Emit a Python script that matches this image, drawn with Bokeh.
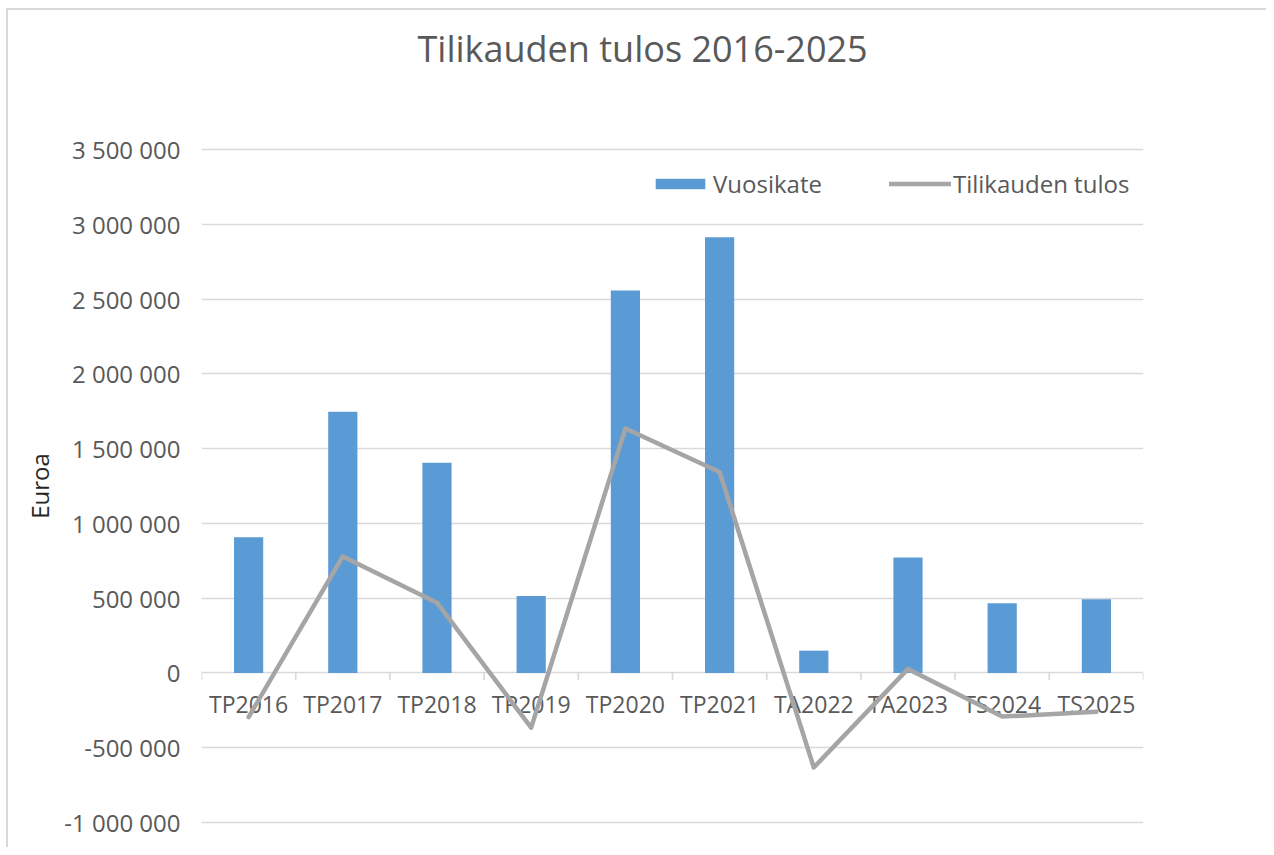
import numpy as np
from bokeh.plotting import figure
from bokeh.models import (FactorRange, Range1d, FixedTicker, CustomJSTickFormatter,
                          Legend, LegendItem, ColumnDataSource, Title, InlineStyleSheet)
from bokeh.core.properties import value
from bokeh.embed import file_html
from bokeh.resources import INLINE

# ---- data ----
categories = ["TP2016", "TP2017", "TP2018", "TP2019", "TP2020",
              "TP2021", "TA2022", "TA2023", "TS2024", "TS2025"]
vuosikate = [908000, 1747000, 1405000, 515000, 2558000,
             2913000, 149000, 772000, 466000, 492000]
tilikauden_tulos = [-295000, 779000, 470000, -366000, 1634000,
                    1344000, -632000, 27000, -292000, -260000]
y_ticks = [-1000000, -500000, 0, 500000, 1000000, 1500000,
           2000000, 2500000, 3000000, 3500000]
title_text = "Tilikauden tulos 2016-2025"
y_label = "Euroa"
series_names = ["Vuosikate", "Tilikauden tulos"]

# ---- style ----
FONT = "Open Sans"
TEXT = "#595959"
GRID = "#d9d9d9"
BAR = "#5b9bd5"
LINE = "#a5a5a5"
W, H = 1266, 847
PAD = 3  # px of extra room so edge gridlines are drawn
B_LEFT, B_RIGHT = 201, 1266 - 1143
B_TOP = 149 - PAD
B_BOTTOM = H - (822 + PAD)
frame_h = H - B_TOP - B_BOTTOM
y_min, y_max = y_ticks[0], y_ticks[-1]
units_per_px = (y_max - y_min) / (frame_h - 2 * PAD)

src = ColumnDataSource(dict(cat=categories, vk=vuosikate, tt=tilikauden_tulos,
                            base=[0] * len(categories)))

p = figure(width=W, height=H,
           x_range=FactorRange(factors=categories, range_padding=0),
           y_range=Range1d(y_min - PAD * units_per_px, y_max + PAD * units_per_px),
           x_axis_location=None,
           output_backend="svg", toolbar_location=None,
           min_border_left=B_LEFT, min_border_right=B_RIGHT,
           min_border_top=B_TOP, min_border_bottom=B_BOTTOM)
p.outline_line_color = None
p.background_fill_color = "white"
p.border_fill_color = "white"

# chart-area border (only its top and left edges fall inside the picture)
p.stylesheets = [InlineStyleSheet(css="""
:host { position: relative; }
:host::after {
  content: ""; position: absolute; left: 6px; top: 8px; right: 0; bottom: 0;
  border-top: 2px solid #d9d9d9; border-left: 2px solid #d9d9d9;
  pointer-events: none; z-index: 10;
}
""")]

# spacer between frame and title (closest to the frame)
p.add_layout(Title(text=" ", text_font_size="10px", standoff=61), "above")

# title
p.title.text = title_text
p.title.align = "left"
p.title.offset = 216
p.title.standoff = 0
p.title.vertical_align = "bottom"
p.title.text_font = FONT
p.title.text_font_size = "36px"
p.title.text_font_style = "normal"
p.title.text_color = TEXT

# y axis
ax = p.yaxis[0]
ax.ticker = FixedTicker(ticks=y_ticks)
ax.formatter = CustomJSTickFormatter(code="""
    return Math.round(tick).toString().replace(/\\B(?=(\\d{3})+(?!\\d))/g, " ");
""")
ax.axis_line_color = None
ax.major_tick_line_color = None
ax.minor_tick_line_color = None
ax.major_label_standoff = 15
ax.major_label_text_font = FONT
ax.major_label_text_font_size = "24px"
ax.major_label_text_color = TEXT
ax.axis_label = y_label
ax.axis_label_text_font = FONT
ax.axis_label_text_font_size = "24px"
ax.axis_label_text_font_style = "normal"
ax.axis_label_text_color = "#262626"
ax.axis_label_standoff = 5

p.ygrid.ticker = FixedTicker(ticks=y_ticks)
p.ygrid.grid_line_color = GRID
p.ygrid.grid_line_width = 1.6
p.xgrid.grid_line_color = None

# category tick marks at boundaries
bounds = [(c, -0.5) for c in categories] + [(categories[-1], 0.5)]
p.segment(x0=bounds, x1=bounds, y0=[0] * len(bounds),
          y1=[-7 * units_per_px] * len(bounds), line_color=GRID, line_width=1.6)

# category labels at zero line
p.text(x="cat", y="base", text="cat", source=src, text_align="center",
       text_baseline="middle", y_offset=31, text_font=value(FONT),
       text_font_size="23px", text_color=TEXT)

bars = p.vbar(x="cat", top="vk", width=0.31, source=src, fill_color=BAR,
              line_color=None)
line = p.line(x="cat", y="tt", source=src, line_color=LINE, line_width=4.5,
              line_join="round", line_cap="round")

legend = Legend(items=[LegendItem(label=series_names[0], renderers=[bars]),
                       LegendItem(label=series_names[1], renderers=[line])],
                orientation="horizontal", location=(448, 622 + PAD),
                glyph_width=62, glyph_height=13, label_standoff=2, spacing=67,
                padding=0, margin=0, border_line_color=None,
                background_fill_alpha=0, label_text_font=FONT,
                label_text_font_size="24px", label_text_color=TEXT)
p.add_layout(legend)

open("out.html", "w").write(file_html(p, INLINE))
